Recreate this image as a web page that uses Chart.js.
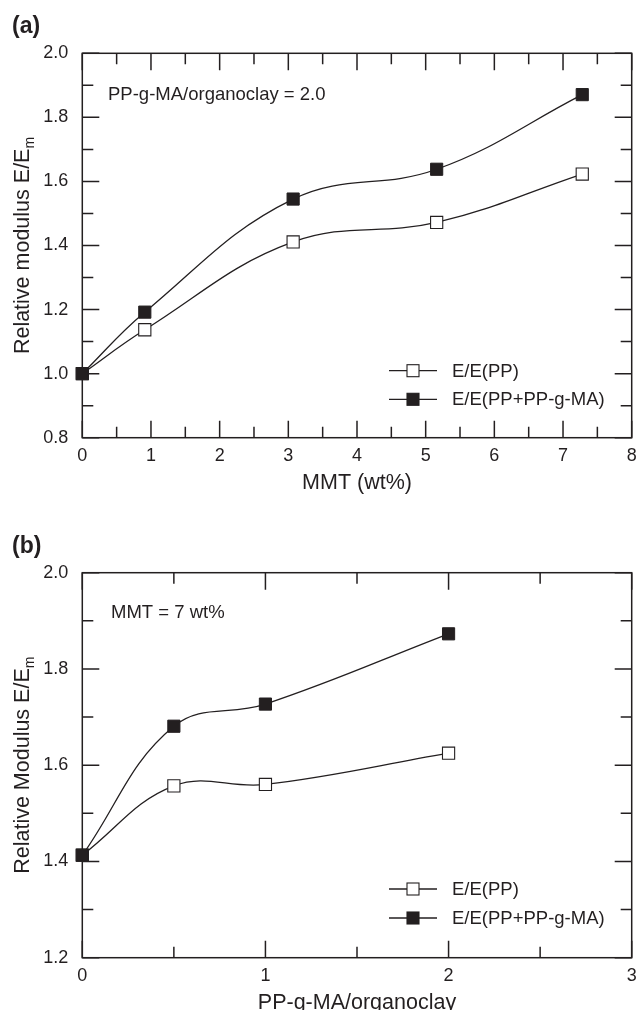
<!DOCTYPE html>
<html>
<head>
<meta charset="utf-8">
<script src="https://cdn.jsdelivr.net/npm/chart.js@4"></script>
<style>
  html, body { margin: 0; padding: 0; background: #fff; }
  canvas { display: block; }
</style>
</head>
<body>
<canvas id="chartA" width="638" height="505"></canvas>
<canvas id="chartB" width="638" height="505"></canvas>
<script>
// panel (a): relative modulus vs clay loading, PP-g-MA/organoclay = 2.0
const mmtLoading = [0, 0.91, 3.07, 5.16, 7.28];
const modulusPP_a = [1.0, 1.137, 1.411, 1.472, 1.623];
const modulusMA_a = [1.0, 1.192, 1.545, 1.638, 1.871];
const xTicksA = [0, 1, 2, 3, 4, 5, 6, 7, 8];
const yTicksA = [0.8, 1.0, 1.2, 1.4, 1.6, 1.8, 2.0];

// panel (b): relative modulus vs PP-g-MA/organoclay ratio, MMT = 7 wt%
const maRatio = [0, 0.5, 1, 2];
const modulusPP_b = [1.413, 1.557, 1.560, 1.625];
const modulusMA_b = [1.413, 1.681, 1.727, 1.873];
const xTicksB = [0, 1, 2, 3];
const yTicksB = [1.2, 1.4, 1.6, 1.8, 2.0];

const seriesNames = ["E/E(PP)", "E/E(PP+PP-g-MA)"];

const FONT = "'Liberation Sans', Arial, Helvetica, sans-serif";
const INK = "#231f20";

const toPoints = (xs, ys) => xs.map((x, i) => ({ x: x, y: ys[i] }));

// box frame + inward major/minor ticks on all four sides
const framePlugin = {
  id: "frame",
  beforeDatasetsDraw(chart, args, opts) {
    const { ctx, chartArea: a, scales: { x, y } } = chart;
    ctx.save();
    ctx.strokeStyle = INK;
    ctx.lineWidth = 1.5;
    ctx.strokeRect(a.left, a.top, a.right - a.left, a.bottom - a.top);
    ctx.beginPath();
    const xs = x.ticks.map(t => t.value);
    const ys = y.ticks.map(t => t.value);
    const xMinor = xs.slice(1).map((v, i) => (v + xs[i]) / 2);
    const yMinor = ys.slice(1).map((v, i) => (v + ys[i]) / 2);
    const vTick = (v, len) => {
      const p = x.getPixelForValue(v);
      ctx.moveTo(p, a.bottom); ctx.lineTo(p, a.bottom - len);
      ctx.moveTo(p, a.top); ctx.lineTo(p, a.top + len);
    };
    const hTick = (v, len) => {
      const p = y.getPixelForValue(v);
      ctx.moveTo(a.left, p); ctx.lineTo(a.left + len, p);
      ctx.moveTo(a.right, p); ctx.lineTo(a.right - len, p);
    };
    xs.forEach(v => vTick(v, 17));
    xMinor.forEach(v => vTick(v, 11));
    ys.forEach(v => hTick(v, 17));
    yMinor.forEach(v => hTick(v, 11));
    ctx.stroke();
    ctx.restore();
  },
  afterDraw(chart, args, opts) {
    const { ctx, chartArea: a } = chart;
    ctx.save();
    ctx.fillStyle = INK;

    // panel letter
    ctx.font = "bold 23px " + FONT;
    ctx.textBaseline = "alphabetic";
    ctx.textAlign = "left";
    ctx.fillText(opts.panel, 12, opts.panelY);

    // note inside the plot
    ctx.font = "18.5px " + FONT;
    ctx.fillText(opts.note, opts.noteX, opts.noteY);

    // x title
    ctx.font = "21.5px " + FONT;
    ctx.textAlign = "center";
    ctx.fillText(opts.xTitle, (a.left + a.right) / 2, a.bottom + 51.6);

    // y title with subscript m
    ctx.textAlign = "left";
    ctx.font = "21.5px " + FONT;
    const w1 = ctx.measureText(opts.yTitle).width;
    ctx.font = "14px " + FONT;
    const w2 = ctx.measureText("m").width;
    const yc = (a.top + a.bottom) / 2;
    ctx.translate(29.3, yc + (w1 + w2) / 2);
    ctx.rotate(-Math.PI / 2);
    ctx.font = "21.5px " + FONT;
    ctx.fillText(opts.yTitle, 0, 0);
    ctx.font = "14px " + FONT;
    ctx.fillText("m", w1, 5);
    ctx.setTransform(1, 0, 0, 1, 0, 0);

    // legend: line with square marker, then label
    ctx.lineWidth = 1.3;
    opts.legendY.forEach((ly, i) => {
      ctx.strokeStyle = INK;
      ctx.beginPath();
      ctx.moveTo(389, ly); ctx.lineTo(437, ly);
      ctx.stroke();
      ctx.fillStyle = i === 0 ? "#ffffff" : INK;
      ctx.fillRect(407, ly - 6, 12, 12);
      ctx.lineWidth = 1.1;
      ctx.strokeRect(407, ly - 6, 12, 12);
      ctx.lineWidth = 1.3;
      ctx.fillStyle = INK;
      ctx.font = "18.5px " + FONT;
      ctx.textBaseline = "middle";
      ctx.fillText(seriesNames[i], 452, ly + 1);
      ctx.textBaseline = "alphabetic";
    });
    ctx.restore();
  }
};

function makeChart(id, s) {
  const ctx = document.getElementById(id).getContext("2d");
  return new Chart(ctx, {
    type: "line",
    data: {
      datasets: [
        {
          label: seriesNames[0],
          data: toPoints(s.xs, s.pp),
          order: 1,
          borderColor: INK,
          borderWidth: 1.3,
          tension: 0.4,
          pointStyle: "rect",
          pointRadius: 8.6,
          pointBorderWidth: 1.1,
          pointBackgroundColor: "#ffffff",
          pointBorderColor: INK,
          clip: false
        },
        {
          label: seriesNames[1],
          data: toPoints(s.xs, s.ma),
          order: 0,
          borderColor: INK,
          borderWidth: 1.3,
          tension: 0.4,
          pointStyle: "rect",
          pointRadius: 8.6,
          pointBorderWidth: 1,
          pointBackgroundColor: INK,
          pointBorderColor: INK,
          clip: false
        }
      ]
    },
    options: {
      responsive: false,
      animation: false,
      events: [],
      layout: {
        // no extra room for the big markers, the margins are fixed
        autoPadding: false,
        padding: { top: s.top, right: 6.3, left: 0, bottom: 0 }
      },
      plugins: {
        legend: { display: false },
        tooltip: { enabled: false },
        frame: s.frame
      },
      scales: {
        x: {
          type: "linear",
          min: s.xTicks[0],
          max: s.xTicks[s.xTicks.length - 1],
          afterBuildTicks: sc => { sc.ticks = s.xTicks.map(v => ({ value: v })); },
          afterFit: sc => {
            sc.height = s.xHeight;
            // the edge labels fit inside the fixed margins already
            sc.paddingLeft = 0;
            sc.paddingRight = 0;
          },
          grid: { display: false, drawTicks: false },
          border: { display: false },
          ticks: {
            padding: 8,
            color: INK,
            font: { family: FONT, size: 18 },
            maxRotation: 0,
            callback: v => String(v)
          }
        },
        y: {
          type: "linear",
          min: s.yTicks[0],
          max: s.yTicks[s.yTicks.length - 1],
          afterBuildTicks: sc => { sc.ticks = s.yTicks.map(v => ({ value: v })); },
          afterFit: sc => { sc.width = 82.3; },
          grid: { display: false, drawTicks: false },
          border: { display: false },
          ticks: {
            padding: 14,
            color: INK,
            font: { family: FONT, size: 18 },
            callback: v => Number(v).toFixed(1)
          }
        }
      }
    },
    plugins: [framePlugin]
  });
}

makeChart("chartA", {
  xs: mmtLoading, pp: modulusPP_a, ma: modulusMA_a,
  xTicks: xTicksA, yTicks: yTicksA,
  top: 53.3, xHeight: 67.3,
  frame: {
    panel: "(a)", panelY: 32.7,
    note: "PP-g-MA/organoclay = 2.0", noteX: 108, noteY: 99.5,
    xTitle: "MMT (wt%)", yTitle: "Relative modulus E/E",
    legendY: [370.7, 399.3]
  }
});

makeChart("chartB", {
  xs: maRatio, pp: modulusPP_b, ma: modulusMA_b,
  xTicks: xTicksB, yTicks: yTicksB,
  top: 67.7, xHeight: 52.3,
  frame: {
    panel: "(b)", panelY: 48,
    note: "MMT = 7 wt%", noteX: 111, noteY: 113,
    xTitle: "PP-g-MA/organoclay", yTitle: "Relative Modulus E/E",
    legendY: [384, 413]
  }
});
</script>
</body>
</html>
